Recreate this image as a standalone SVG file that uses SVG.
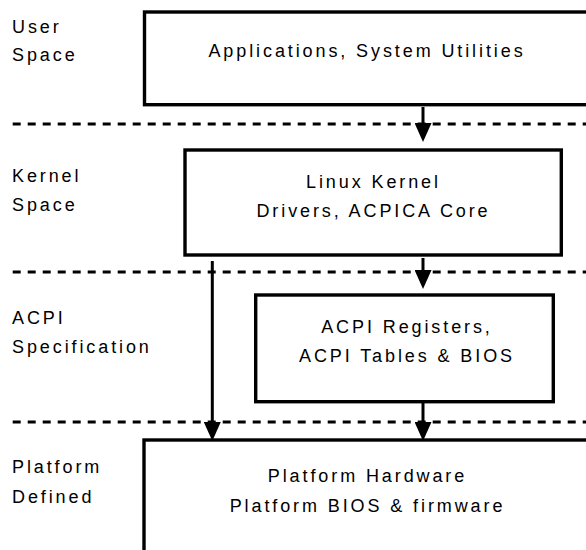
<svg xmlns="http://www.w3.org/2000/svg" width="586" height="550" viewBox="0 0 586 550">
<defs>
<style>
.box{fill:#fff;stroke:#000;stroke-width:3.4}
.dash{stroke:#000;stroke-width:3;stroke-dasharray:8 7;fill:none}
.con{stroke:#000;stroke-width:3;fill:none;marker-end:url(#ah)}
text{font-family:"Liberation Sans",Arial,sans-serif;font-size:18px;letter-spacing:2.9px;fill:#000}
.c{text-anchor:middle}
</style>
<marker id="ah" viewBox="0 0 19 17" markerWidth="19" markerHeight="17" markerUnits="userSpaceOnUse" refX="9" refY="8.5" orient="auto">
<path d="M0,0 L19,8.5 L0,17 z" fill="#000"/>
</marker>
</defs>
<rect width="586" height="550" fill="#fff"/>
<g id="layers">
<line class="dash" x1="12.7" y1="124" x2="586" y2="124"/>
<line class="dash" x1="12.7" y1="272" x2="586" y2="272"/>
<line class="dash" x1="12.7" y1="422" x2="586" y2="422"/>
<text x="12" y="32.5">User</text>
<text x="12" y="61.3">Space</text>
<text x="12" y="181.7">Kernel</text>
<text x="12" y="210.7">Space</text>
<text x="12" y="324">ACPI</text>
<text x="12" y="353">Specification</text>
<text x="12" y="473.3">Platform</text>
<text x="12" y="502.7">Defined</text>
</g>
<g id="connectors">
<line class="con" x1="423" y1="107" x2="423" y2="132"/>
<line class="con" x1="423" y1="258" x2="423" y2="279"/>
<line class="con" x1="212.3" y1="261" x2="212.3" y2="431"/>
<line class="con" x1="423" y1="403" x2="423" y2="431"/>
</g>
<g id="apps">
<rect class="box" x="144.5" y="12" width="460" height="92.7"/>
<text class="c" x="367" y="57">Applications, System Utilities</text>
</g>
<g id="kernel">
<rect class="box" x="185" y="150" width="376.3" height="105"/>
<text class="c" x="373.5" y="188.3">Linux Kernel</text>
<text class="c" x="373.5" y="217.3">Drivers, ACPICA Core</text>
</g>
<g id="acpi">
<rect class="box" x="255.7" y="295" width="297.6" height="106.7"/>
<text class="c" x="407" y="333.3">ACPI Registers,</text>
<text class="c" x="407" y="361.7">ACPI Tables &amp; BIOS</text>
</g>
<g id="platform">
<rect class="box" x="144" y="440" width="460" height="130"/>
<text class="c" x="367.5" y="481.7">Platform Hardware</text>
<text class="c" x="367.5" y="511.7">Platform BIOS &amp; firmware</text>
</g>
</svg>
